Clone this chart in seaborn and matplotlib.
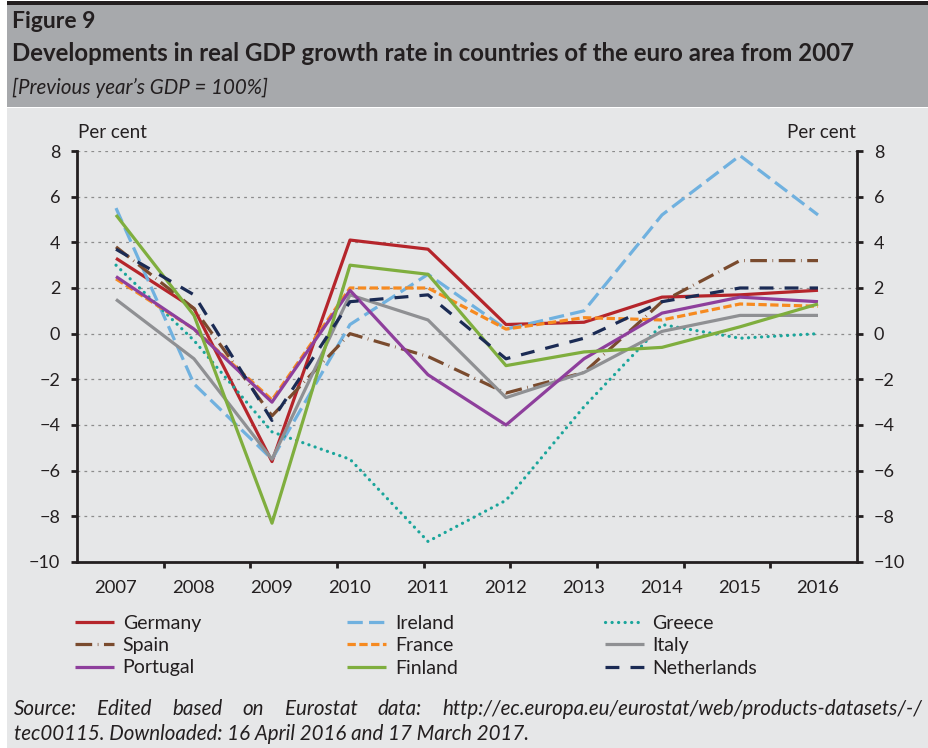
import numpy as np
import pandas as pd
import matplotlib
matplotlib.use("Agg")
import matplotlib.pyplot as plt
from matplotlib.patches import Rectangle
import seaborn as sns

# data (% change on previous year)
years = [2007, 2008, 2009, 2010, 2011, 2012, 2013, 2014, 2015, 2016]
germany = [3.3, 1.1, -5.6, 4.1, 3.7, 0.4, 0.5, 1.6, 1.7, 1.9]
ireland = [5.5, -2.2, -5.5, 0.4, 2.6, 0.2, 1.0, 5.2, 7.8, 5.2]
greece = [3.0, -0.3, -4.3, -5.5, -9.1, -7.3, -3.2, 0.4, -0.2, 0.0]
spain = [3.8, 1.1, -3.6, 0.0, -1.0, -2.6, -1.7, 1.4, 3.2, 3.2]
france = [2.4, 0.2, -2.9, 2.0, 2.0, 0.2, 0.7, 0.6, 1.3, 1.2]
italy = [1.5, -1.1, -5.5, 1.7, 0.6, -2.8, -1.7, 0.1, 0.8, 0.8]
portugal = [2.5, 0.2, -3.0, 1.9, -1.8, -4.0, -1.1, 0.9, 1.6, 1.4]
finland = [5.2, 0.8, -8.3, 3.0, 2.6, -1.4, -0.8, -0.6, 0.3, 1.3]
netherlands = [3.7, 1.7, -3.8, 1.4, 1.7, -1.1, -0.2, 1.4, 2.0, 2.0]

countries = ["Germany", "Ireland", "Greece", "Spain", "France", "Italy",
             "Portugal", "Finland", "Netherlands"]
values = [germany, ireland, greece, spain, france, italy, portugal, finland, netherlands]

colors = {
    "Germany": "#b5252b", "Ireland": "#70b1df", "Greece": "#1aa59b",
    "Spain": "#7a4b2e", "France": "#f68a20", "Italy": "#8f9093",
    "Portugal": "#8e3f9c", "Finland": "#7fae3e", "Netherlands": "#1b2b54",
}
styles = {
    "Germany": "-", "Ireland": (0, (11, 4.5)), "Greece": (0, (0.1, 4.6)),
    "Spain": (0, (12, 4, 0.5, 4)), "France": (0, (6, 2.5)), "Italy": "-",
    "Portugal": "-", "Finland": "-", "Netherlands": (0, (10, 8)),
}

df = pd.DataFrame({
    "year_idx": np.tile(np.arange(len(years)), len(countries)),
    "growth": np.concatenate(values),
    "country": np.repeat(countries, len(years)),
})

sns.set_style("white")
plt.rcParams["font.family"] = ["Lato", "DejaVu Sans"]
plt.rcParams["lines.scale_dashes"] = False

BODY = "#e6e7e8"
INK = "#231f20"
fig = plt.figure(figsize=(9.29, 7.48), dpi=100, facecolor="white")
W, H = 929, 748

# header band and body panel
fig.patches.append(Rectangle((7 / W, 0), 1, 1 - 108 / H, transform=fig.transFigure,
                             facecolor=BODY, edgecolor="none", zorder=-2))
fig.patches.append(Rectangle((7 / W, 1 - 107 / H), 1, 102 / H, transform=fig.transFigure,
                             facecolor="#a7a9ac", edgecolor="none", zorder=-1))
fig.patches.append(Rectangle((7 / W, 1 - 5 / H), 1, 4 / H, transform=fig.transFigure,
                             facecolor=INK, edgecolor="none", zorder=-1))

fig.text(12 / W, 1 - 28 / H, "Figure 9", fontsize=16.5, fontweight="bold",
         color=INK, va="baseline")
fig.text(12 / W, 1 - 61 / H,
         "Developments in real GDP growth rate in countries of the euro area from 2007",
         fontsize=17.3, fontweight="bold", color=INK, va="baseline")
fig.text(12 / W, 1 - 94 / H, "[Previous year\u2019s GDP = 100%]", fontsize=14.8,
         style="italic", color=INK, va="baseline")

ax = fig.add_axes([77 / W, 1 - 562 / H, 780 / W, 411 / H])
ax.set_facecolor(BODY)

for c in countries:
    sub = df[df["country"] == c]
    sns.lineplot(data=sub, x="year_idx", y="growth", ax=ax, color=colors[c],
                 linestyle=styles[c], linewidth=2.3, label=c,
                 dash_capstyle="round" if c == "Greece" else "butt",
                 solid_capstyle="butt")

ax.set_xlim(-0.5, len(years) - 0.5)
ax.set_ylim(-10, 8)
ax.set_yticks(np.arange(-10, 9, 2))
ax.set_xticks(np.arange(len(years)))
ax.set_xticklabels([str(y) for y in years])
ax.set_xticks(np.linspace(-0.5, len(years) - 0.5, len(years))[1:-1], minor=True)
ax.set_xlabel("")
ax.set_ylabel("")
ax.yaxis.grid(True, color="#8c8c8c", linestyle=(0, (2, 3)), linewidth=0.9)
ax.set_axisbelow(True)

for side in ["left", "right", "bottom"]:
    ax.spines[side].set_visible(True)
    ax.spines[side].set_color(INK)
    ax.spines[side].set_linewidth(2)
ax.spines["top"].set_visible(False)

ax.tick_params(axis="y", which="major", left=True, right=True, labelleft=True,
               labelright=True, direction="out", length=4, width=2,
               color=INK, labelsize=13, labelcolor=INK, pad=8)
ax.tick_params(axis="x", which="major", length=0, pad=13, labelsize=13.3,
               labelcolor=INK)
ax.tick_params(axis="x", which="minor", bottom=True, direction="out",
               length=4, width=2, color=INK)
ax.legend_.remove()

fig.text(78 / W, 1 - 133 / H, "Per cent", fontsize=13.5, color=INK, va="center")
fig.text(856 / W, 1 - 133 / H, "Per cent", fontsize=13.5, color=INK,
         va="center", ha="right")

handles, labels = ax.get_legend_handles_labels()
order = [0, 3, 6, 1, 4, 7, 2, 5, 8]
fig.legend([handles[i] for i in order], [labels[i] for i in order],
           loc="upper left", bbox_to_anchor=(75 / W, 1 - 615 / H - 0.1, 682 / W, 0.1),
           mode="expand", ncol=3, frameon=False, fontsize=14, handlelength=2.0,
           handletextpad=0.45, labelspacing=0.27, borderpad=0, borderaxespad=0,
           labelcolor=INK)


def justified(words, x0, x1, y, **kw):
    renderer = fig.canvas.get_renderer()
    texts = [fig.text(0, y, w, **kw) for w in words]
    widths = [t.get_window_extent(renderer).width for t in texts]
    gap = ((x1 - x0) - sum(widths)) / (len(words) - 1)
    x = x0
    for t, w in zip(texts, widths):
        t.set_x(x / W)
        x += w + gap


src_kw = dict(fontsize=14.8, style="italic", color=INK, va="baseline")
justified("Source: Edited based on Eurostat data: http://ec.europa.eu/eurostat/web/products-datasets/-/".split(),
          14, 922, 1 - 715 / H, **src_kw)
fig.text(14 / W, 1 - 740 / H, "tec00115. Downloaded: 16 April 2016 and 17 March 2017.", **src_kw)

fig.savefig("out.png", dpi=100, facecolor="white")
